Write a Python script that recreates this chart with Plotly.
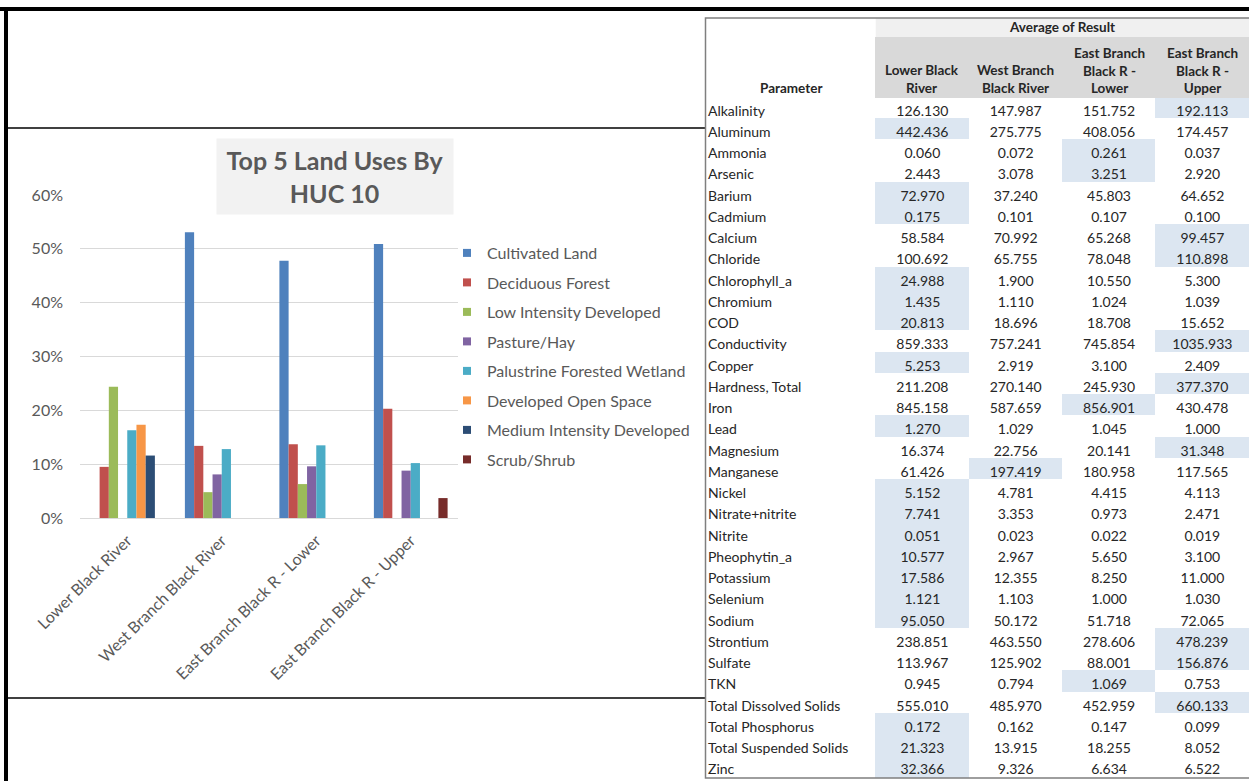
import plotly.graph_objects as go

# ---- Land use chart data (fraction of HUC 10 area) ----
basins = ["Lower Black River", "West Branch Black River",
          "East Branch Black R - Lower", "East Branch Black R - Upper"]

land_uses = ["Cultivated Land", "Deciduous Forest", "Low Intensity Developed",
             "Pasture/Hay", "Palustrine Forested Wetland", "Developed Open Space",
             "Medium Intensity Developed", "Scrub/Shrub"]

cultivated = [None, 0.531, 0.478, 0.509]
deciduous = [0.095, 0.134, 0.137, 0.203]
low_intensity = [0.244, 0.048, 0.063, None]
pasture = [None, 0.081, 0.096, 0.088]
palustrine = [0.163, 0.128, 0.135, 0.102]
open_space = [0.173, None, None, None]
medium_intensity = [0.116, None, None, None]
scrub = [None, None, None, 0.037]

land_colors = ["#4f81bd", "#c0504d", "#9bbb59", "#8064a2",
               "#4bacc6", "#f79646", "#2c4d75", "#772c2a"]

# ---- Water quality table data (average of result) ----
parameters = ["Alkalinity", "Aluminum", "Ammonia", "Arsenic", "Barium", "Cadmium",
              "Calcium", "Chloride", "Chlorophyll_a", "Chromium", "COD",
              "Conductivity", "Copper", "Hardness, Total", "Iron", "Lead",
              "Magnesium", "Manganese", "Nickel", "Nitrate+nitrite", "Nitrite",
              "Pheophytin_a", "Potassium", "Selenium", "Sodium", "Strontium",
              "Sulfate", "TKN", "Total Dissolved Solids", "Total Phosphorus",
              "Total Suspended Solids", "Zinc"]

lower_black = [126.130, 442.436, 0.060, 2.443, 72.970, 0.175, 58.584, 100.692,
               24.988, 1.435, 20.813, 859.333, 5.253, 211.208, 845.158, 1.270,
               16.374, 61.426, 5.152, 7.741, 0.051, 10.577, 17.586, 1.121,
               95.050, 238.851, 113.967, 0.945, 555.010, 0.172, 21.323, 32.366]
west_branch = [147.987, 275.775, 0.072, 3.078, 37.240, 0.101, 70.992, 65.755,
               1.900, 1.110, 18.696, 757.241, 2.919, 270.140, 587.659, 1.029,
               22.756, 197.419, 4.781, 3.353, 0.023, 2.967, 12.355, 1.103,
               50.172, 463.550, 125.902, 0.794, 485.970, 0.162, 13.915, 9.326]
east_lower = [151.752, 408.056, 0.261, 3.251, 45.803, 0.107, 65.268, 78.048,
              10.550, 1.024, 18.708, 745.854, 3.100, 245.930, 856.901, 1.045,
              20.141, 180.958, 4.415, 0.973, 0.022, 5.650, 8.250, 1.000,
              51.718, 278.606, 88.001, 1.069, 452.959, 0.147, 18.255, 6.634]
east_upper = [192.113, 174.457, 0.037, 2.920, 64.652, 0.100, 99.457, 110.898,
              5.300, 1.039, 15.652, 1035.933, 2.409, 377.370, 430.478, 1.000,
              31.348, 117.565, 4.113, 2.471, 0.019, 3.100, 11.000, 1.030,
              72.065, 478.239, 156.876, 0.753, 660.133, 0.099, 8.052, 6.522]

table_headers = ["Parameter", "Lower Black<br>River", "West Branch<br>Black River",
                 "East Branch<br>Black R -<br>Lower", "East Branch<br>Black R -<br>Upper"]
group_header = "Average of Result"

W, H = 1249, 781


def px_x(x):
    return x / W


def px_y(y):
    return 1 - y / H


fig = go.Figure()

series = [cultivated, deciduous, low_intensity, pasture, palustrine,
          open_space, medium_intensity, scrub]
for name, color, vals in zip(land_uses, land_colors, series):
    fig.add_trace(go.Bar(x=basins, y=vals, name=name, marker_color=color,
                         marker_line_width=0, showlegend=False))
    # small square legend key
    fig.add_trace(go.Scatter(x=[None], y=[None], mode="markers", name=name,
                             legendgroup=name,
                             marker=dict(symbol="square", size=8, color=color)))

# ---- table: highlight the largest value of each row ----
value_cols = [lower_black, west_branch, east_lower, east_upper]
HILITE = "#dce6f1"
fills = [["white"] * len(parameters)]
for col in value_cols:
    colfill = []
    for ri in range(len(parameters)):
        row_max = max(c[ri] for c in value_cols)
        colfill.append(HILITE if col[ri] == row_max else "white")
    fills.append(colfill)

TABLE_X0, TABLE_X1 = 700, 1249
HEAD_TOP, HEAD_BOT, TABLE_BOT = 37, 97, 779
col_w = [177, 94, 94, 94, 94]
scale = (TABLE_X1 - TABLE_X0) / sum(col_w)
col_edges = [TABLE_X0]
for w in col_w:
    col_edges.append(col_edges[-1] + w * scale)

header_fill = ["white"] + ["#d9d9d9"] * 4

fig.add_trace(go.Table(
    domain=dict(x=[px_x(TABLE_X0), px_x(TABLE_X1)], y=[px_y(TABLE_BOT), px_y(HEAD_TOP)]),
    columnwidth=col_w,
    header=dict(values=[""] * len(table_headers),
                fill_color=header_fill, line_color=header_fill,
                height=HEAD_BOT - HEAD_TOP),
    cells=dict(values=[parameters] + value_cols,
               format=[None, ".3f", ".3f", ".3f", ".3f"],
               fill_color=fills, line_color=fills,
               align=["left", "center", "center", "center", "center"],
               height=21.25,
               font=dict(family="Lato", size=14, color="#262626")),
))

HEAD_FONT = dict(family="Lato", size=13.5, color="#262626")
annotations = [
    dict(text="<b>Top 5 Land Uses By<br>HUC 10</b>", xref="paper", yref="paper",
         x=px_x(335), y=px_y(176.5), xanchor="center", yanchor="middle",
         showarrow=False, bgcolor="#f2f2f2", width=234, height=73,
         font=dict(family="Lato", size=25, color="#595959")),
    dict(text="<b>%s</b>" % group_header, xref="paper", yref="paper",
         x=px_x((col_edges[1] + TABLE_X1) / 2), y=px_y(27.5),
         xanchor="center", yanchor="middle", showarrow=False, font=HEAD_FONT),
]
for i, head in enumerate(table_headers):
    cx = (col_edges[i] + col_edges[i + 1]) / 2
    if i == 0:
        cx = (706 + col_edges[1]) / 2
    annotations.append(dict(text="<b>%s</b>" % head, xref="paper", yref="paper",
                            x=px_x(cx), y=px_y(HEAD_BOT + 1), xanchor="center",
                            yanchor="bottom", align="center", showarrow=False,
                            font=HEAD_FONT))

TXT = "#595959"
fig.update_layout(
    width=W, height=H,
    margin=dict(l=0, r=0, t=0, b=0, autoexpand=False),
    paper_bgcolor="white", plot_bgcolor="white",
    barmode="group", bargap=0.22, bargroupgap=0,
    font=dict(family="Lato", color=TXT, size=16),
    xaxis=dict(domain=[px_x(80), px_x(458)], tickangle=-45, showgrid=False,
               showline=True, linecolor="#d9d9d9", linewidth=1,
               tickfont=dict(size=16, color=TXT), ticks="",
               ticklabelstandoff=6, anchor="y", automargin=False),
    yaxis=dict(domain=[px_y(518), px_y(195)], range=[0, 0.6], dtick=0.1,
               tickformat=".0%", showgrid=True, gridcolor="#d9d9d9",
               zeroline=False, showline=False, ticks="", automargin=False,
               tickfont=dict(size=16, color=TXT), ticklabelstandoff=16),
    legend=dict(x=px_x(447), y=px_y(236), xanchor="left", yanchor="top",
                font=dict(size=16, color=TXT), tracegroupgap=5.7,
                bgcolor="rgba(0,0,0,0)", itemclick=False),
    shapes=[
        # outer black frame (top and left)
        dict(type="rect", xref="paper", yref="paper", x0=px_x(0), x1=1,
             y0=px_y(11), y1=px_y(7), fillcolor="black", line_width=0, layer="above"),
        dict(type="rect", xref="paper", yref="paper", x0=px_x(4), x1=px_x(8),
             y0=0, y1=px_y(7), fillcolor="black", line_width=0, layer="above"),
        # chart panel separators
        dict(type="line", xref="paper", yref="paper", x0=px_x(8), x1=px_x(705),
             y0=px_y(128), y1=px_y(128), line=dict(color="#404040", width=2)),
        dict(type="line", xref="paper", yref="paper", x0=px_x(8), x1=px_x(705),
             y0=px_y(698), y1=px_y(698), line=dict(color="#404040", width=2)),
        # "Average of Result" band
        dict(type="rect", xref="paper", yref="paper", x0=px_x(col_edges[1]), x1=1,
             y0=px_y(HEAD_TOP), y1=px_y(18), fillcolor="#f0f0f0", line_width=0),
        # table frame
        dict(type="rect", xref="paper", yref="paper", x0=px_x(705.5), x1=px_x(1252),
             y0=px_y(778), y1=px_y(18), line=dict(color="#7f7f7f", width=1.5),
             layer="above"),
    ],
    annotations=annotations,
)

fig.write_html("out.html")
